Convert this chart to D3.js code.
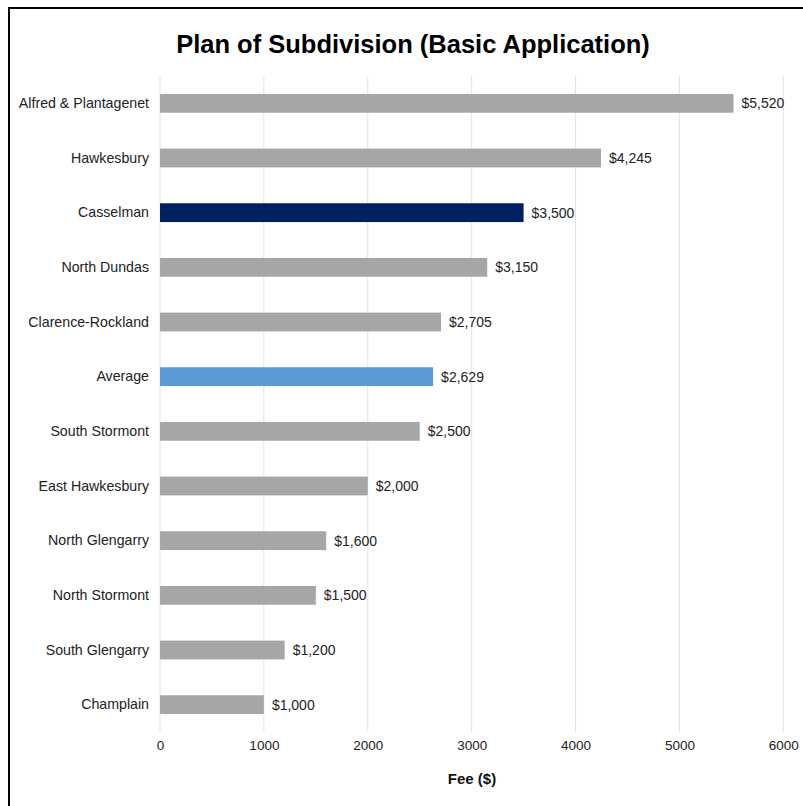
<!DOCTYPE html>
<html>
<head>
<meta charset="utf-8">
<script src="https://cdn.jsdelivr.net/npm/d3@7"></script>
<style>
  html, body { margin: 0; padding: 0; background: #fff; }
  svg { display: block; }
</style>
</head>
<body>
<svg id="chart" width="803" height="806"></svg>
<script>
// Municipal fees for a basic plan of subdivision application
const municipalities = [
  "Alfred & Plantagenet", "Hawkesbury", "Casselman", "North Dundas",
  "Clarence-Rockland", "Average", "South Stormont", "East Hawkesbury",
  "North Glengarry", "North Stormont", "South Glengarry", "Champlain"
];
const fees = [5520, 4245, 3500, 3150, 2705, 2629, 2500, 2000, 1600, 1500, 1200, 1000];
const xTicks = [0, 1000, 2000, 3000, 4000, 5000, 6000];
const highlight = { "Casselman": "#002060", "Average": "#5b9bd5" };
const baseColor = "#a6a6a6";

const data = municipalities.map((name, i) => ({ name, fee: fees[i] }));

const svg = d3.select("#chart");
const font = "'Liberation Sans', Arial, Helvetica, sans-serif";

// Frame around the chart
svg.append("rect")
  .attr("x", 9).attr("y", 8)
  .attr("width", 820).attr("height", 820)
  .attr("fill", "none").attr("stroke", "#000").attr("stroke-width", 2);

const x = d3.scaleLinear().domain([0, 6000]).range([160, 783.3]);
const y = d3.scaleBand()
  .domain(municipalities)
  .range([76, 732])
  .paddingInner(0.656)
  .paddingOuter(0.328);

// Vertical gridlines
svg.append("g")
  .selectAll("line")
  .data(xTicks)
  .join("line")
  .attr("x1", d => x(d)).attr("x2", d => x(d))
  .attr("y1", 76).attr("y2", 732)
  .attr("stroke", "#e3e3e3").attr("stroke-width", 1);

// X axis tick labels
const xAxis = d3.axisBottom(x).tickValues(xTicks).tickSize(0).tickPadding(0).tickFormat(d3.format("d"));
const gx = svg.append("g").attr("transform", "translate(0,740)").call(xAxis);
gx.select(".domain").remove();
gx.selectAll("text")
  .attr("dy", "0.71em")
  .attr("font-family", font).attr("font-size", 13.5).attr("fill", "#222");

// Y axis category labels
const yAxis = d3.axisLeft(y).tickSize(0).tickPadding(11);
const gy = svg.append("g").attr("transform", "translate(160,0)").call(yAxis);
gy.select(".domain").remove();
gy.selectAll("text")
  .attr("font-family", font).attr("font-size", 14.2).attr("fill", "#222");

// Bars
svg.append("g")
  .selectAll("rect")
  .data(data)
  .join("rect")
  .attr("x", x(0))
  .attr("y", d => y(d.name))
  .attr("width", d => x(d.fee) - x(0))
  .attr("height", y.bandwidth())
  .attr("fill", d => highlight[d.name] || baseColor);

// Value labels
const money = d3.format("$,");
svg.append("g")
  .selectAll("text")
  .data(data)
  .join("text")
  .attr("x", d => x(d.fee) + 8)
  .attr("y", d => y(d.name) + y.bandwidth() / 2)
  .attr("dy", "0.35em")
  .attr("font-family", font).attr("font-size", 14).attr("fill", "#222")
  .text(d => money(d.fee));

// Title
svg.append("text")
  .attr("x", 413).attr("y", 52.5)
  .attr("text-anchor", "middle")
  .attr("font-family", font).attr("font-size", 25.5).attr("font-weight", "bold")
  .attr("fill", "#000")
  .text("Plan of Subdivision (Basic Application)");

// X axis title
svg.append("text")
  .attr("x", 472).attr("y", 784)
  .attr("text-anchor", "middle")
  .attr("font-family", font).attr("font-size", 15).attr("font-weight", "bold")
  .attr("fill", "#111")
  .text("Fee ($)");
</script>
</body>
</html>
